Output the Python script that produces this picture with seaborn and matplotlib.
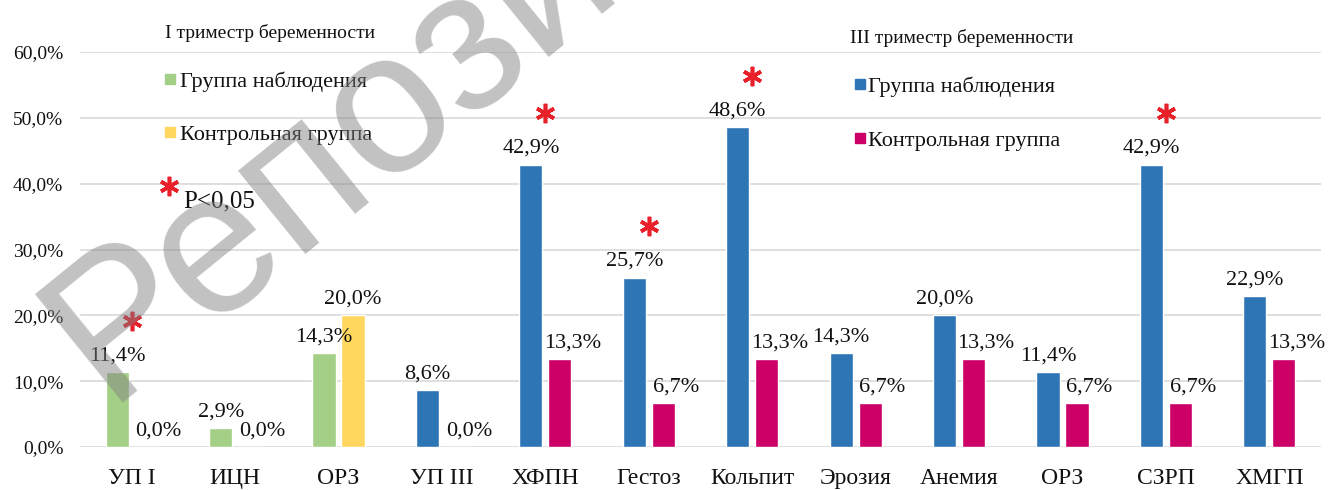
import numpy as np
import pandas as pd
import matplotlib
matplotlib.use("Agg")
import matplotlib.pyplot as plt
import matplotlib.transforms as mtransforms
from matplotlib.patches import Rectangle
from matplotlib.lines import Line2D
from matplotlib.ticker import FuncFormatter
import seaborn as sns

# ---------------- data ----------------
categories = ["УП I", "ИЦН", "ОРЗ", "УП III", "ХФПН", "Гестоз", "Кольпит",
              "Эрозия", "Анемия", "ОРЗ", "СЗРП", "ХМГП"]
trimester = ["I", "I", "I", "III", "III", "III", "III", "III", "III", "III", "III", "III"]
observed = [11.4, 2.9, 14.3, 8.6, 42.9, 25.7, 48.6, 14.3, 20.0, 11.4, 42.9, 22.9]
control = [0.0, 0.0, 20.0, 0.0, 13.3, 6.7, 13.3, 6.7, 13.3, 6.7, 6.7, 13.3]
significant = [True, False, False, False, True, True, True, False, False, False, True, False]
y_ticks = [0, 10, 20, 30, 40, 50, 60]
series_names = ["Группа наблюдения", "Контрольная группа"]
header_1 = "I триместр беременности"
header_3 = "III триместр беременности"
sig_label = "P<0,05"
watermark = "Репозиторий"

# ---------------- style ----------------
GREEN = "#A3CF86"
YELLOW = "#FFD75E"
BLUE = "#2E75B6"
MAGENTA = "#CC0066"
RED = "#E8202A"

sns.set_theme(style="white")
plt.rcParams["font.family"] = ["Liberation Serif", "DejaVu Serif"]

W, H = 1334, 490
fig = plt.figure(figsize=(W / 100, H / 100), dpi=100)
fx = lambda px: px / W
fy = lambda py: 1 - py / H

ax = fig.add_axes([fx(80), fy(447), (1321 - 80) / W, (447 - 52) / H])

ids = [str(i) for i in range(len(categories))]
df = pd.DataFrame({
    "cat": ids * 2,
    "series": ["obs"] * len(ids) + ["ctrl"] * len(ids),
    "value": observed + control,
})

sns.barplot(data=df, x="cat", y="value", hue="series", order=ids,
            hue_order=["obs", "ctrl"], palette=[BLUE, MAGENTA],
            width=0.56, gap=0.2, saturation=1, errorbar=None,
            legend=False, ax=ax)

# first trimester colours
for i, bar in enumerate(ax.containers[0]):
    if trimester[i] == "I":
        bar.set_facecolor(GREEN)
for i, bar in enumerate(ax.containers[1]):
    if trimester[i] == "I":
        bar.set_facecolor(YELLOW)

ax.set_xlim(-0.5, len(categories) - 0.5)
ax.set_ylim(0, 60)
ax.set_yticks(y_ticks)
ax.yaxis.set_major_formatter(FuncFormatter(lambda v, p: f"{v:.1f}%".replace(".", ",")))
ax.set_xticks(range(len(categories)))
ax.set_xticklabels(categories)
ax.set_xlabel("")
ax.set_ylabel("")
ax.yaxis.grid(True, color="#d9d9d9", lw=1.2)
ax.xaxis.grid(False)
ax.set_axisbelow(True)
for s in ax.spines.values():
    s.set_visible(False)
ax.tick_params(axis="x", length=0, pad=15, labelsize=17, colors="#111111")
ax.tick_params(axis="y", length=0, pad=12, labelsize=14, colors="#111111")

fmt = lambda v: f"{v:.1f}%".replace(".", ",")

# value labels
for k, vals in enumerate([observed, control]):
    for i, bar in enumerate(ax.containers[k]):
        x = bar.get_x() + bar.get_width() / 2
        dx = 9 if (k == 1 and control[i] < observed[i]) else 0
        ax.annotate(fmt(vals[i]), (x, vals[i]), xytext=(dx, 8.5),
                    textcoords="offset points", ha="center", va="baseline",
                    fontsize=16, color="#111111", annotation_clip=False)

# significance asterisks
star_tr = mtransforms.offset_copy(ax.transData, fig=fig, x=0, y=37, units="points")
for i, sig in enumerate(significant):
    if sig:
        ax.plot([i], [observed[i]], marker=(6, 2, 0), ms=14, mew=2.6,
                color=RED, transform=star_tr, clip_on=False, zorder=5)

# legends (manual)
fig.text(fx(165), fy(38), header_1, fontsize=14, va="baseline", ha="left", color="#111111")
fig.text(fx(850), fy(43), header_3, fontsize=14, va="baseline", ha="left", color="#111111")

legend_rows = [
    (165, 180, 87, GREEN, series_names[0]),
    (165, 180, 140, YELLOW, series_names[1]),
    (855, 868, 92, BLUE, series_names[0]),
    (855, 868, 146, MAGENTA, series_names[1]),
]
for sx, tx, base, col, lab in legend_rows:
    fig.add_artist(Rectangle((fx(sx), fy(base - 3)), 10 / W, 10 / H,
                             transform=fig.transFigure, color=col))
    fig.text(fx(tx), fy(base), lab, fontsize=16, va="baseline", ha="left", color="#111111")

fig.add_artist(Line2D([fx(169)], [fy(186)], marker=(6, 2, 0), ms=14,
                      mew=2.6, color=RED, transform=fig.transFigure))
fig.text(fx(183), fy(207), sig_label, fontsize=18, va="baseline", ha="left", color="#111111")

# watermark
fig.text(fx(106), fy(402), watermark, rotation=39, rotation_mode="anchor",
         ha="left", va="baseline", fontsize=146, family="Liberation Sans",
         color="#808080", alpha=0.48, zorder=10)

fig.savefig("out.png", dpi=100)
